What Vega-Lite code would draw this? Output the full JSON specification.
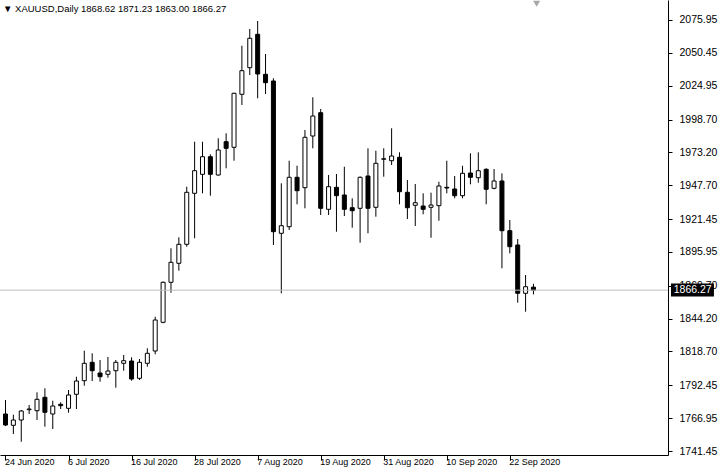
{
  "$schema": "https://vega.github.io/schema/vega-lite/v6.json",
  "width": 668,
  "height": 455,
  "autosize": {"type": "none"},
  "padding": {"left": 0, "top": 0, "right": 60, "bottom": 20},
  "background": "white",
  "config": {
    "view": {"stroke": null},
    "font": "Liberation Sans",
    "axis": {"labelFont": "Liberation Sans", "labelFontSize": 9.5, "labelColor": "black", "domainColor": "black", "tickColor": "black", "grid": false, "title": null, "labelOverlap": false, "labelBound": false, "labelFlush": false}
  },
  "title": {
    "text": "▼ XAUUSD,Daily  1868.62 1871.23 1863.00 1866.27",
    "anchor": "start",
    "frame": "group",
    "offset": -13,
    "dx": 3,
    "font": "Liberation Sans",
    "fontSize": 9.5,
    "fontWeight": "normal",
    "color": "black"
  },
  "datasets": {
    "ohlc": [
      {"d": "2020-06-24", "i": 0, "o": 1770.16, "h": 1781.03, "l": 1760.85, "c": 1761.63},
      {"d": "2020-06-25", "i": 1, "o": 1761.40, "h": 1769.62, "l": 1754.64, "c": 1765.51},
      {"d": "2020-06-26", "i": 2, "o": 1765.51, "h": 1773.27, "l": 1748.66, "c": 1772.49},
      {"d": "2020-06-29", "i": 3, "o": 1773.50, "h": 1777.15, "l": 1770.16, "c": 1774.05},
      {"d": "2020-06-30", "i": 4, "o": 1772.73, "h": 1787.00, "l": 1765.51, "c": 1781.57},
      {"d": "2020-07-01", "i": 5, "o": 1783.13, "h": 1790.11, "l": 1760.31, "c": 1771.48},
      {"d": "2020-07-02", "i": 6, "o": 1770.16, "h": 1780.49, "l": 1758.52, "c": 1776.37},
      {"d": "2020-07-03", "i": 7, "o": 1777.69, "h": 1779.24, "l": 1774.05, "c": 1776.61},
      {"d": "2020-07-06", "i": 8, "o": 1774.59, "h": 1788.79, "l": 1771.17, "c": 1784.91},
      {"d": "2020-07-07", "i": 9, "o": 1785.45, "h": 1799.11, "l": 1774.05, "c": 1795.78},
      {"d": "2020-07-08", "i": 10, "o": 1796.01, "h": 1819.29, "l": 1792.13, "c": 1809.51},
      {"d": "2020-07-09", "i": 11, "o": 1810.29, "h": 1817.27, "l": 1795.78, "c": 1803.77},
      {"d": "2020-07-10", "i": 12, "o": 1801.98, "h": 1812.07, "l": 1795.23, "c": 1799.11},
      {"d": "2020-07-13", "i": 13, "o": 1800.98, "h": 1814.40, "l": 1798.34, "c": 1803.54},
      {"d": "2020-07-14", "i": 14, "o": 1803.77, "h": 1812.07, "l": 1790.58, "c": 1810.29},
      {"d": "2020-07-15", "i": 15, "o": 1809.51, "h": 1815.95, "l": 1803.77, "c": 1811.53},
      {"d": "2020-07-16", "i": 16, "o": 1811.30, "h": 1814.17, "l": 1796.01, "c": 1797.33},
      {"d": "2020-07-17", "i": 17, "o": 1797.87, "h": 1812.85, "l": 1796.55, "c": 1810.29},
      {"d": "2020-07-20", "i": 18, "o": 1809.51, "h": 1821.16, "l": 1806.87, "c": 1817.27},
      {"d": "2020-07-21", "i": 19, "o": 1819.06, "h": 1845.68, "l": 1816.50, "c": 1843.12},
      {"d": "2020-07-22", "i": 20, "o": 1841.33, "h": 1873.00, "l": 1840.60, "c": 1872.38},
      {"d": "2020-07-23", "i": 21, "o": 1872.38, "h": 1898.76, "l": 1864.31, "c": 1887.90},
      {"d": "2020-07-24", "i": 22, "o": 1887.12, "h": 1907.30, "l": 1881.38, "c": 1901.87},
      {"d": "2020-07-27", "i": 23, "o": 1901.87, "h": 1946.57, "l": 1900.01, "c": 1942.23},
      {"d": "2020-07-28", "i": 24, "o": 1941.45, "h": 1981.50, "l": 1906.53, "c": 1958.99},
      {"d": "2020-07-29", "i": 25, "o": 1956.20, "h": 1981.50, "l": 1941.45, "c": 1969.85},
      {"d": "2020-07-30", "i": 26, "o": 1969.85, "h": 1971.72, "l": 1939.59, "c": 1956.20},
      {"d": "2020-07-31", "i": 27, "o": 1955.65, "h": 1984.14, "l": 1955.11, "c": 1975.05},
      {"d": "2020-08-03", "i": 28, "o": 1981.50, "h": 1988.02, "l": 1960.85, "c": 1976.37},
      {"d": "2020-08-04", "i": 29, "o": 1977.15, "h": 2019.50, "l": 1966.75, "c": 2019.06},
      {"d": "2020-08-05", "i": 30, "o": 2018.28, "h": 2056.00, "l": 2009.98, "c": 2036.60},
      {"d": "2020-08-06", "i": 31, "o": 2038.93, "h": 2068.96, "l": 2033.26, "c": 2061.75},
      {"d": "2020-08-07", "i": 32, "o": 2064.85, "h": 2075.17, "l": 2015.18, "c": 2034.04},
      {"d": "2020-08-10", "i": 33, "o": 2033.81, "h": 2049.56, "l": 2018.52, "c": 2027.29},
      {"d": "2020-08-11", "i": 34, "o": 2028.61, "h": 2030.70, "l": 1901.33, "c": 1911.65},
      {"d": "2020-08-12", "i": 35, "o": 1910.41, "h": 1949.21, "l": 1863.84, "c": 1916.31},
      {"d": "2020-08-13", "i": 36, "o": 1915.53, "h": 1966.75, "l": 1912.97, "c": 1953.87},
      {"d": "2020-08-14", "i": 37, "o": 1953.87, "h": 1962.87, "l": 1932.91, "c": 1943.47},
      {"d": "2020-08-17", "i": 38, "o": 1945.80, "h": 1990.58, "l": 1929.81, "c": 1984.91},
      {"d": "2020-08-18", "i": 39, "o": 1985.92, "h": 2015.96, "l": 1976.37, "c": 2001.44},
      {"d": "2020-08-19", "i": 40, "o": 2004.00, "h": 2006.88, "l": 1924.61, "c": 1929.81},
      {"d": "2020-08-20", "i": 41, "o": 1929.03, "h": 1955.65, "l": 1924.61, "c": 1946.57},
      {"d": "2020-08-21", "i": 42, "o": 1946.11, "h": 1956.43, "l": 1911.65, "c": 1939.59},
      {"d": "2020-08-24", "i": 43, "o": 1940.13, "h": 1962.09, "l": 1923.83, "c": 1929.03},
      {"d": "2020-08-25", "i": 44, "o": 1930.27, "h": 1937.57, "l": 1914.75, "c": 1927.95},
      {"d": "2020-08-26", "i": 45, "o": 1929.81, "h": 1954.50, "l": 1903.11, "c": 1953.87},
      {"d": "2020-08-27", "i": 46, "o": 1954.88, "h": 1976.37, "l": 1910.41, "c": 1929.81},
      {"d": "2020-08-28", "i": 47, "o": 1930.58, "h": 1974.51, "l": 1923.29, "c": 1964.73},
      {"d": "2020-08-31", "i": 48, "o": 1967.84, "h": 1976.37, "l": 1954.33, "c": 1968.30},
      {"d": "2020-09-01", "i": 49, "o": 1966.75, "h": 1991.90, "l": 1963.41, "c": 1970.40},
      {"d": "2020-09-02", "i": 50, "o": 1969.39, "h": 1973.27, "l": 1932.91, "c": 1942.69},
      {"d": "2020-09-03", "i": 51, "o": 1942.23, "h": 1951.77, "l": 1921.50, "c": 1930.27},
      {"d": "2020-09-04", "i": 52, "o": 1932.14, "h": 1948.67, "l": 1916.07, "c": 1934.15},
      {"d": "2020-09-07", "i": 53, "o": 1931.59, "h": 1941.45, "l": 1925.15, "c": 1929.03},
      {"d": "2020-09-08", "i": 54, "o": 1930.58, "h": 1941.92, "l": 1906.99, "c": 1932.37},
      {"d": "2020-09-09", "i": 55, "o": 1931.83, "h": 1950.45, "l": 1920.19, "c": 1947.12},
      {"d": "2020-09-10", "i": 56, "o": 1946.11, "h": 1966.75, "l": 1941.45, "c": 1945.56},
      {"d": "2020-09-11", "i": 57, "o": 1944.79, "h": 1954.88, "l": 1937.57, "c": 1939.59},
      {"d": "2020-09-14", "i": 58, "o": 1939.59, "h": 1962.87, "l": 1937.57, "c": 1956.97},
      {"d": "2020-09-15", "i": 59, "o": 1957.20, "h": 1972.49, "l": 1948.43, "c": 1953.87},
      {"d": "2020-09-16", "i": 60, "o": 1953.56, "h": 1973.27, "l": 1949.68, "c": 1958.99},
      {"d": "2020-09-17", "i": 61, "o": 1960.08, "h": 1960.85, "l": 1932.91, "c": 1944.55},
      {"d": "2020-09-18", "i": 62, "o": 1945.33, "h": 1960.31, "l": 1944.55, "c": 1951.00},
      {"d": "2020-09-21", "i": 63, "o": 1951.00, "h": 1956.97, "l": 1883.24, "c": 1912.42},
      {"d": "2020-09-22", "i": 64, "o": 1912.42, "h": 1920.73, "l": 1894.88, "c": 1900.01},
      {"d": "2020-09-23", "i": 65, "o": 1901.33, "h": 1905.98, "l": 1856.54, "c": 1863.84},
      {"d": "2020-09-24", "i": 66, "o": 1863.84, "h": 1878.04, "l": 1849.56, "c": 1868.96},
      {"d": "2020-09-25", "i": 67, "o": 1868.62, "h": 1871.23, "l": 1863.00, "c": 1866.27}
    ],
    "bid": [{"p": 1866.27, "label": "1866.27"}]
  },
  "data": {"name": "ohlc"},
  "layer": [
    {
      "mark": {"type": "rule", "color": "black", "strokeWidth": 1, "clip": true},
      "encoding": {
        "x": {
          "field": "i", "type": "quantitative",
          "scale": {"domain": [-0.0625, 83.4375], "nice": false, "zero": false},
          "axis": {
            "orient": "bottom",
            "values": [0, 8, 16, 24, 32, 40, 48, 56, 64],
            "tickCount": 20,
            "labelExpr": "['24 Jun 2020','6 Jul 2020','16 Jul 2020','28 Jul 2020','7 Aug 2020','19 Aug 2020','31 Aug 2020','10 Sep 2020','22 Sep 2020'][round(datum.value/8)]",
            "labelAlign": "left",
            "labelBaseline": "top",
            "labelFontSize": 9,
            "labelOffset": -1,
            "labelPadding": -3,
            "tickSize": 5,
            "domain": true
          }
        },
        "y": {
          "field": "l", "type": "quantitative",
          "scale": {"domain": [1738.35, 2091.47], "nice": false, "zero": false},
          "axis": {
            "orient": "right",
            "values": [1741.45, 1766.95, 1792.45, 1818.70, 1844.20, 1869.70, 1895.95, 1921.45, 1947.70, 1973.20, 1998.70, 2024.95, 2050.45, 2075.95],
            "tickCount": 30,
            "format": ".2f",
            "labelFontSize": 10.5,
            "tickSize": 4,
            "labelPadding": 7,
            "domain": true
          }
        },
        "y2": {"field": "h"}
      }
    },
    {
      "mark": {"type": "bar", "stroke": "black", "strokeWidth": 1, "size": 4, "clip": true},
      "encoding": {
        "x": {"field": "i", "type": "quantitative"},
        "y": {"field": "o", "type": "quantitative"},
        "y2": {"field": "c"},
        "fill": {"condition": {"test": "datum.c < datum.o", "value": "black"}, "value": "white"}
      }
    },
    {
      "data": {"name": "bid"},
      "mark": {"type": "rule", "color": "#bcbcbc", "strokeWidth": 1},
      "encoding": {"y": {"field": "p", "type": "quantitative"}}
    },
    {
      "data": {"name": "bid"},
      "mark": {"type": "rect", "fill": "black"},
      "encoding": {
        "x": {"datum": 84.45},
        "x2": {"datum": 89.9},
        "y": {"datum": 1861.4},
        "y2": {"datum": 1871.4}
      }
    },
    {
      "data": {"name": "bid"},
      "mark": {"type": "text", "color": "white", "align": "left", "baseline": "middle", "fontSize": 10.5, "font": "Liberation Sans"},
      "encoding": {
        "x": {"datum": 84.8},
        "y": {"field": "p", "type": "quantitative"},
        "text": {"field": "label"}
      }
    },
    {
      "data": {"name": "bid"},
      "mark": {"type": "point", "shape": "triangle-down", "filled": true, "color": "#a8a8a8", "size": 50, "opacity": 1},
      "encoding": {
        "x": {"datum": 67.4},
        "y": {"datum": 2088.6}
      }
    }
  ]
}
